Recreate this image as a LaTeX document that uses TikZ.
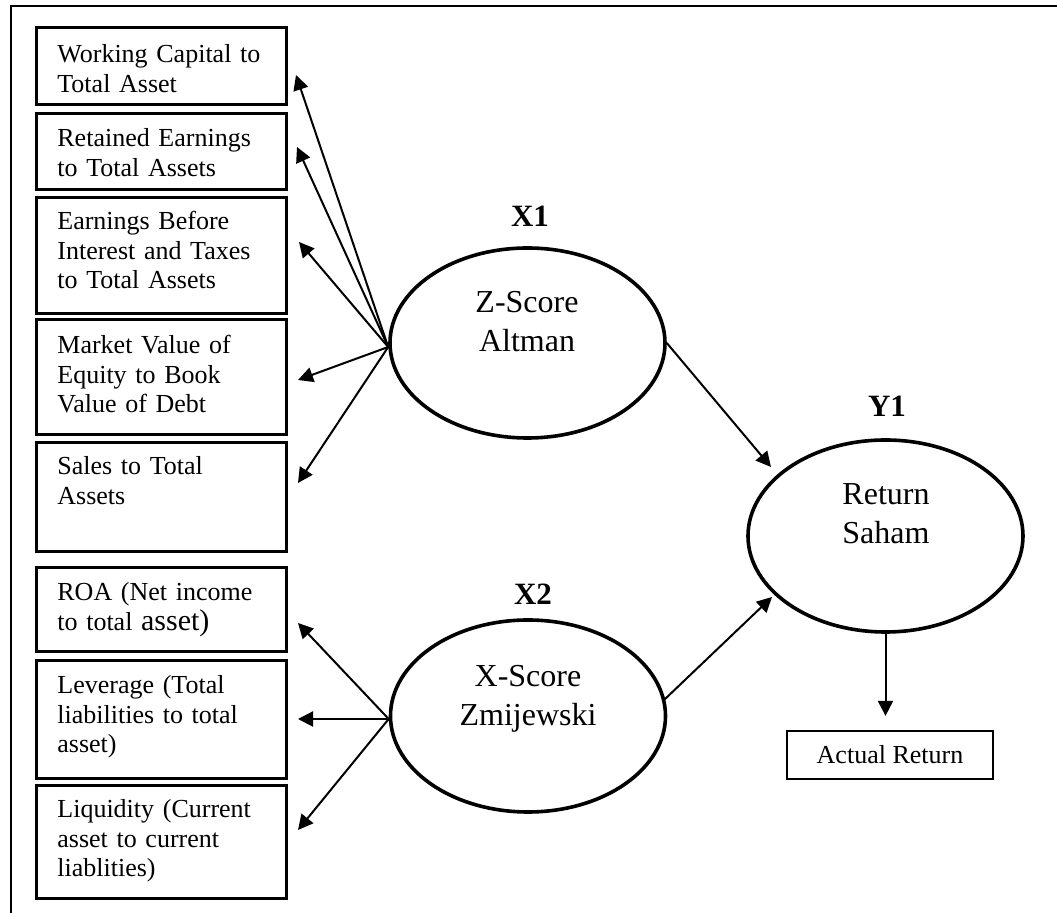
\documentclass[tikz,border=0pt]{standalone}
\usepackage{fontspec}
\setmainfont{Liberation Serif}
\usetikzlibrary{arrows.meta,shapes.geometric,calc}
\begin{document}
\begin{tikzpicture}[x=0.5pt,y=-0.5pt,
  indbox/.style={draw,line width=1.3pt,rectangle,anchor=north west,minimum width=125pt,inner sep=0pt},
  boxtext/.style={anchor=base west,text width=118pt,align=left,inner sep=0pt,font=\fontsize{13}{14.7}\selectfont},
  latent/.style={draw,ellipse,line width=1.8pt,minimum width=137.5pt,minimum height=95pt,inner sep=0pt},
  lattext/.style={anchor=base,text width=100pt,align=center,inner sep=0pt,font=\fontsize{16}{19.5}\selectfont},
  lab/.style={anchor=base,inner sep=0pt,font=\fontsize{15.5}{18}\selectfont\bfseries},
  arr/.style={line width=1pt,-{Triangle[length=7.5pt,width=7.5pt]}}
]
\useasboundingbox (0,0) rectangle (1057,913);
\draw[line width=0.8pt] (11,913) -- (11,6) -- (1057,6);

% indicator boxes
\node[indbox,minimum height=38.5pt] (b1) at (35,26) {};
\node[indbox,minimum height=38pt]   (b2) at (35,112) {};
\node[indbox,minimum height=58pt]   (b3) at (35,196) {};
\node[indbox,minimum height=57.5pt] (b4) at (35,318) {};
\node[indbox,minimum height=54.5pt] (b5) at (35,441) {};
\node[indbox,minimum height=42pt]   (b6) at (35,566) {};
\node[indbox,minimum height=59pt]   (b7) at (35,659) {};
\node[indbox,minimum height=56.5pt] (b8) at (35,784) {};

\node[boxtext] (tb1) at (57,63)  {Working Capital to\\Total Asset};
\node[boxtext] (tb2) at (57,147) {Retained Earnings\\to Total Assets};
\node[boxtext] (tb3) at (57,230) {Earnings Before\\Interest and Taxes\\to Total Assets};
\node[boxtext] (tb4) at (57,354) {Market Value of\\Equity to Book\\Value of Debt};
\node[boxtext] (tb5) at (57,475) {Sales to Total\\Assets};
\node[boxtext] (tb6) at (57,601) {ROA (Net income\\to total {\fontsize{15}{14.7}\selectfont asset)}};
\node[boxtext] (tb7) at (57,694) {Leverage (Total\\liabilities to total\\asset)};
\node[boxtext] (tb8) at (57,818) {Liquidity (Current\\asset to current\\liablities)};

% latent variables
\node[latent] (x1) at (527.5,343) {};
\node[latent,minimum height=96pt] (x2) at (528,716) {};
\node[latent,minimum height=96pt] (y1) at (885.5,536) {};

\node[lattext] (tx1) at (527,313) {Z-Score\\Altman};
\node[lattext] (tx2) at (528,687) {X-Score\\Zmijewski};
\node[lattext] (ty1) at (886,505) {Return\\Saham};

\node[lab] (lx1) at (530,227) {X1};
\node[lab] (lx2) at (533,605) {X2};
\node[lab] (ly1) at (887,417) {Y1};

\node[draw,line width=1.1pt,minimum width=103pt,minimum height=24pt,inner sep=0pt,
      font=\fontsize{13}{15}\selectfont] (ar) at (890,755) {Actual Return};

% arrow end points
\coordinate (o1) at ($(x1.west)+(0,4)$);
\coordinate (o2) at ($(x2.west)+(0,3)$);
\coordinate (p1) at (296,75);
\coordinate (p2) at (297,147);
\coordinate (p3) at (299,242);
\coordinate (p4) at (298,380);
\coordinate (p5) at (298,483);
\coordinate (p6) at (298,623);
\coordinate (p7) at (298,719);
\coordinate (p8) at (298,830);
\coordinate (s2) at (664,700);
\coordinate (e1) at (771,467);
\coordinate (e2) at (772,597);

\foreach \p in {p1,p2,p3,p4,p5} \draw[arr] (o1) -- (\p);
\foreach \p in {p6,p7,p8} \draw[arr] (o2) -- (\p);

\draw[arr] (x1.east) -- (e1);
\draw[arr] (s2) -- (e2);
\draw[arr,shorten >=7pt] (y1.south) -- (y1.south |- ar.north);
\end{tikzpicture}
\end{document}
